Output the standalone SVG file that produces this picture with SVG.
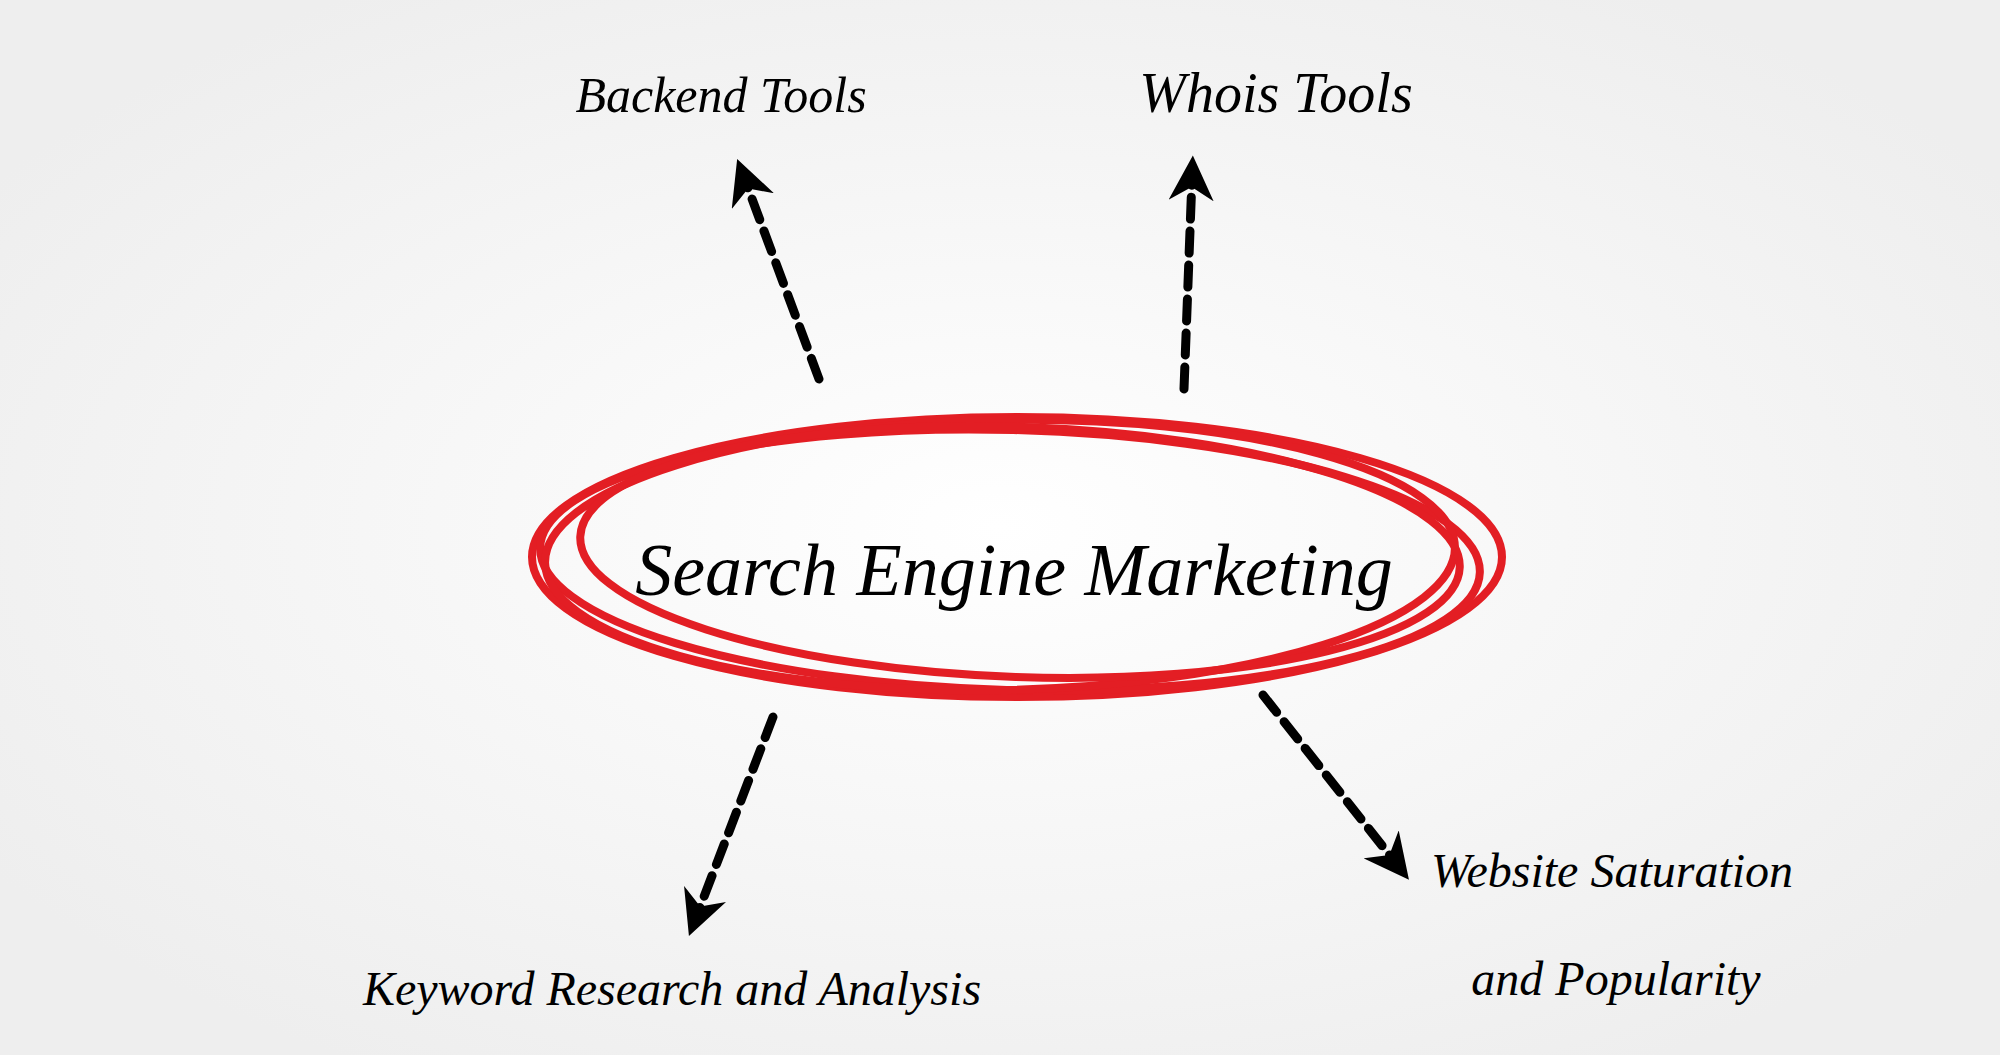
<svg xmlns="http://www.w3.org/2000/svg" width="2000" height="1055" viewBox="0 0 2000 1055">
<defs>
<radialGradient id="bg" cx="50%" cy="50%" r="60%"><stop offset="0" stop-color="#ffffff"/><stop offset="1" stop-color="#eeeeee"/></radialGradient>
<marker id="ah" viewBox="0 0 10 10" refX="5" refY="5" markerWidth="5" markerHeight="5" orient="auto"><path d="M0,0 L10,5 L0,10 L3,5 z" fill="#000"/></marker>
<style>
.lbl{font-family:"Liberation Serif",serif;font-style:italic;fill:#000;text-anchor:middle}
.dash{stroke:#000;stroke-width:9;stroke-dasharray:22 12;stroke-linecap:round;fill:none}
.ring{fill:none;stroke:#e31e24;stroke-width:8}
</style>
</defs>
<rect width="2000" height="1055" fill="url(#bg)"/>
<g id="center">
<ellipse class="ring" cx="1017" cy="557" rx="485" ry="140"/>
<ellipse class="ring" cx="1010" cy="560" rx="470" ry="130" transform="rotate(1.5 1010 560)"/>
<ellipse class="ring" cx="1000" cy="555" rx="455" ry="135" transform="rotate(-1 1000 555)"/>
<ellipse class="ring" cx="1020" cy="552" rx="440" ry="125" transform="rotate(2 1020 552)"/>
<text class="lbl" x="1014" y="595" font-size="74">Search Engine Marketing</text>
</g>
<g id="backend"><text class="lbl" x="721" y="112" font-size="50">Backend Tools</text></g>
<g id="whois"><text class="lbl" x="1276" y="112" font-size="56">Whois Tools</text></g>
<g id="keyword"><text class="lbl" x="672" y="1005" font-size="48">Keyword Research and Analysis</text></g>
<g id="website"><text class="lbl" x="1612" y="887" font-size="48">Website Saturation</text><text class="lbl" x="1616" y="995" font-size="48">and Popularity</text></g>
<g id="connectors">
<path class="dash" d="M819,379 L745,180" marker-end="url(#ah)"/>
<path class="dash" d="M1184,389 L1192,178" marker-end="url(#ah)"/>
<path class="dash" d="M773,717 L697,915" marker-end="url(#ah)"/>
<path class="dash" d="M1263,695 L1395,862" marker-end="url(#ah)"/>
</g>
</svg>
